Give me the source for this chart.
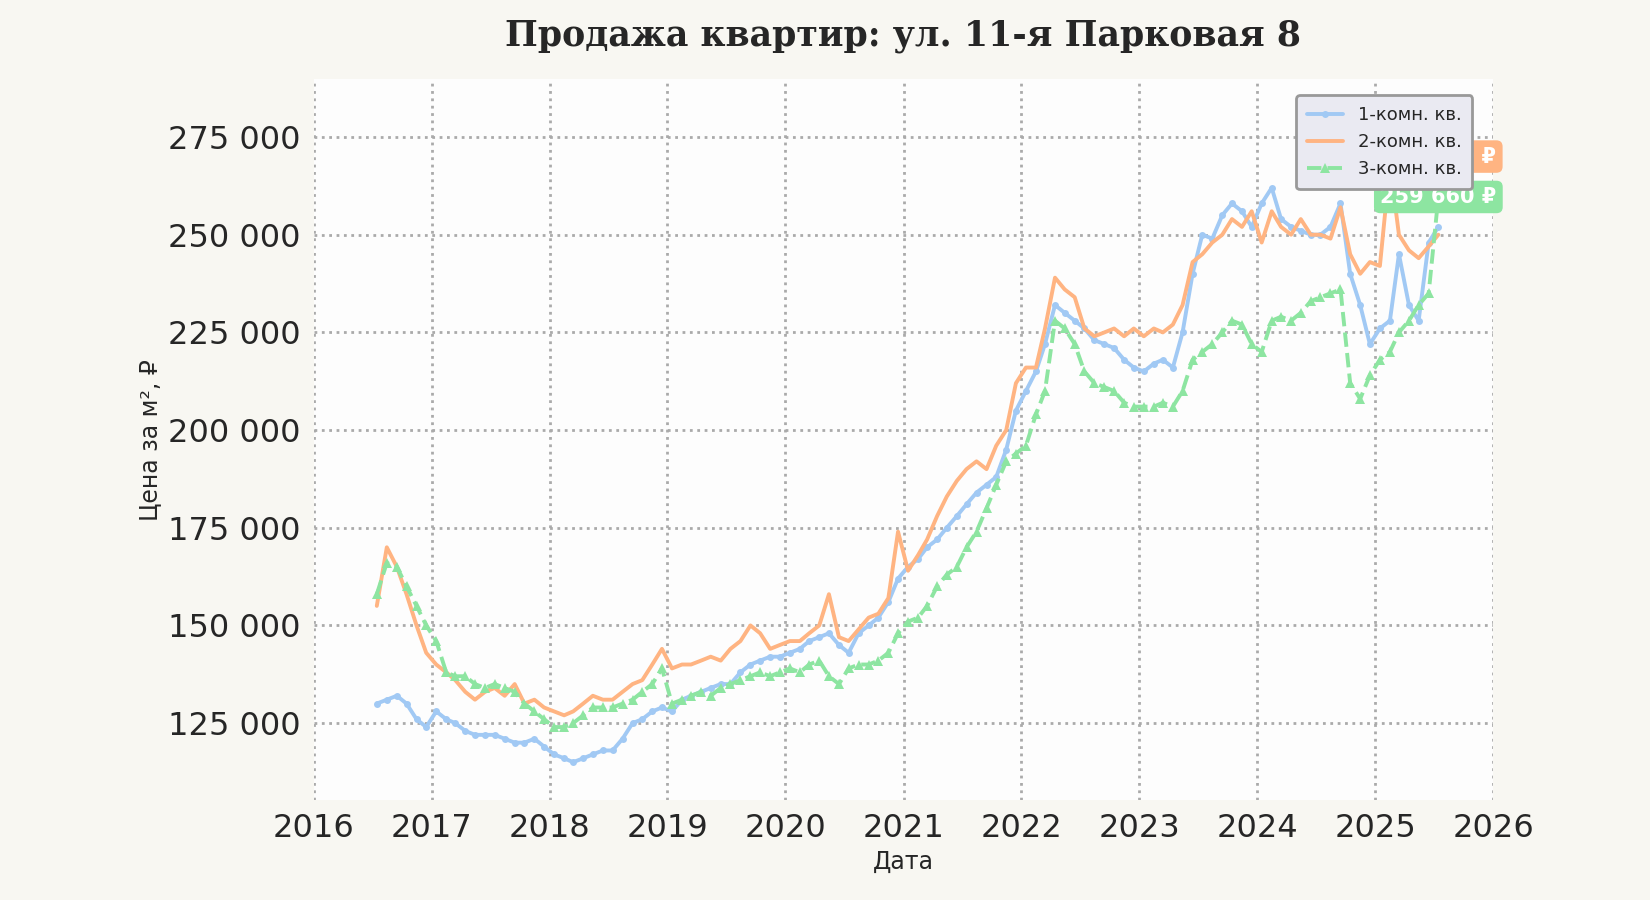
import numpy as np, pandas as pd, seaborn as sns, matplotlib
matplotlib.use("Agg")
import matplotlib.pyplot as plt
import matplotlib.dates as mdates

months = pd.date_range("2016-06-15", periods=109, freq="MS") + pd.Timedelta(days=14)
one_room = [130,131,132,130,126,124,128,
 126,125,123,122,122,122,121,120,120,121,119,117,
 116,115,116,117,118,118,121,125,126,128,129,128,
 131,132,133,134,135,135,138,140,141,142,142,143,
 144,146,147,148,145,143,148,150,152,156,162,165,
 167,170,172,175,178,181,184,186,188,195,205,210,
 215,222,232,230,228,226,223,222,221,218,216,215,
 217,218,216,225,240,250,249,255,258,256,252,258,
 262,254,252,251,250,250,252,258,240,232,222,226,
 228,245,232,228,248,252]
two_room = [155,170,165,158,150,143,140,
 138,136,133,131,133,134,132,135,130,131,129,128,
 127,128,130,132,131,131,133,135,136,140,144,139,
 140,140,141,142,141,144,146,150,148,144,145,146,
 146,148,150,158,147,146,149,152,153,157,174,164,
 168,172,178,183,187,190,192,190,196,200,212,216,
 216,226,239,236,234,226,224,225,226,224,226,224,
 226,225,227,232,243,245,248,250,254,252,256,248,
 256,252,250,254,250,250,249,257,245,240,243,242,
 268,250,246,244,247,250]
three_room = [158,166,165,160,155,150,146,
 138,137,137,135,134,135,134,133,130,128,126,124,
 124,125,127,129,129,129,130,131,133,135,139,130,
 131,132,133,132,134,135,136,137,138,137,138,139,
 138,140,141,137,135,139,140,140,141,143,148,151,
 152,155,160,163,165,170,174,180,186,192,194,196,
 204,210,228,226,222,215,212,211,210,207,206,206,
 206,207,206,210,218,220,222,225,228,227,222,220,
 228,229,228,230,233,234,235,236,212,208,214,218,
 220,225,228,232,235,259.66]
labels = ["1-комн. кв.", "2-комн. кв.", "3-комн. кв."]
two_room_last_label = 270000

df = pd.DataFrame({"date": months, labels[0]: np.array(one_room)*1000,
                   labels[1]: np.array(two_room)*1000, labels[2]: np.array(three_room)*1000})

sns.set_theme(style="whitegrid")
pal = sns.color_palette("pastel")
fig, ax = plt.subplots(figsize=(16.5, 9), dpi=100)
fig.patch.set_facecolor("#F8F7F2")
ax.set_facecolor("#FDFDFD")
styles = [dict(marker="o", markersize=5, linestyle="-"), dict(linestyle="-"),
          dict(marker="^", markersize=7, linestyle="--")]
for lab, c, st in zip(labels, pal[:3], styles):
    sns.lineplot(x=df["date"], y=df[lab], ax=ax, color=c, linewidth=2.8, label=lab,
                 markeredgewidth=0, **st)

ax.set_ylim(105300, 289800)
ax.set_xlim(pd.Timestamp("2016-01-01"), pd.Timestamp("2026-01-01"))
ax.xaxis.set_major_locator(mdates.YearLocator())
ax.xaxis.set_major_formatter(mdates.DateFormatter("%Y"))
ax.yaxis.set_major_formatter(matplotlib.ticker.FuncFormatter(lambda v, p: f"{int(v):,}".replace(",", " ")))
ax.tick_params(labelsize=23)
ax.grid(True, linestyle=":", color="#AAAAAA", linewidth=2)
for s in ax.spines.values():
    s.set_visible(False)
ax.set_xlabel("Дата", fontsize=17)
ax.set_ylabel("Цена за м², ₽", fontsize=17)
ax.set_title("Продажа квартир: ул. 11-я Парковая 8", fontsize=25, fontweight="bold",
             family="DejaVu Serif", pad=24)
for v, c in [(two_room_last_label, pal[1]), (three_room[-1]*1000, pal[2])]:
    ax.annotate(f"{v:,.0f} ₽".replace(",", " "), (months[-1], v),
                xytext=(0, 0), textcoords="offset points", fontsize=15, fontweight="bold",
                color="white", va="center", ha="center",
                bbox=dict(boxstyle="round,pad=0.3", fc=c, ec="none"), zorder=3)
leg = ax.legend(loc="upper right", fontsize=13, facecolor="#EAEAF2", edgecolor="#999999",
                framealpha=1, borderpad=0.6, bbox_to_anchor=(0.99, 0.99))
leg.get_frame().set_linewidth(2)
leg.set_zorder(10)
fig.subplots_adjust(left=0.19, right=0.905, top=0.912, bottom=0.111)
fig.savefig("out.png", dpi=100, facecolor=fig.get_facecolor())
